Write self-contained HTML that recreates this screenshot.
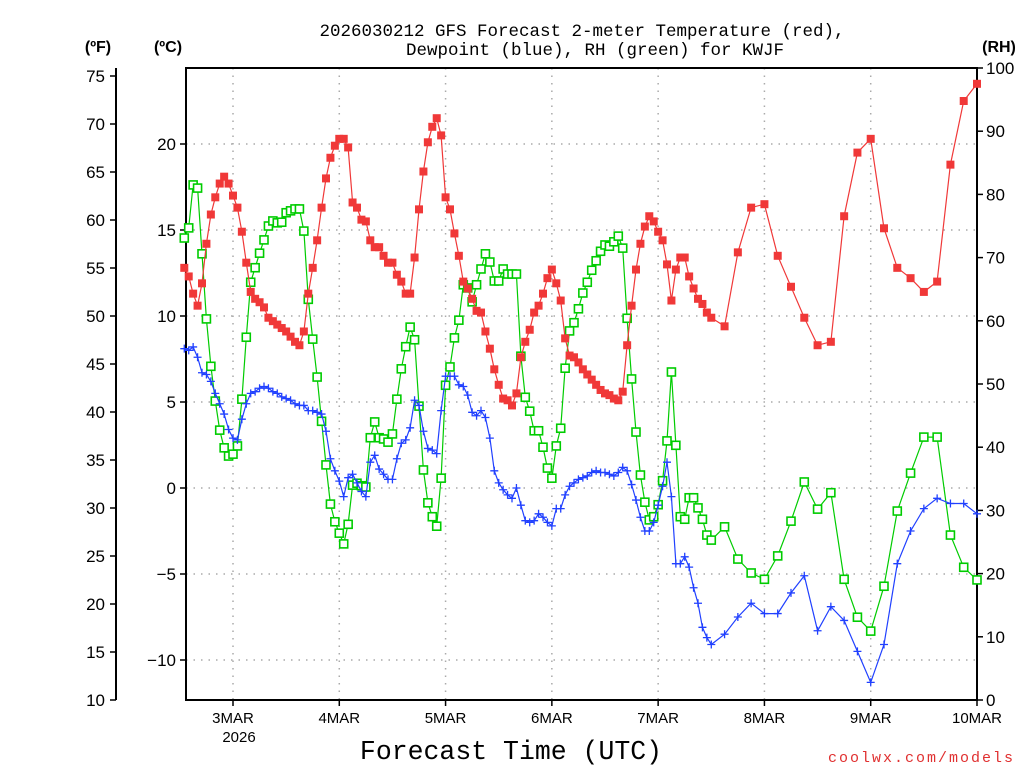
<!DOCTYPE html>
<html><head><meta charset="utf-8"><style>
html,body{margin:0;padding:0;background:#fff;}
svg{display:block;font-family:"Liberation Sans",sans-serif;}
</style></head><body>
<svg id="chart" width="1024" height="768" viewBox="0 0 1024 768">
<rect width="1024" height="768" fill="#fff"/>
<text x="582" y="36" text-anchor="middle" font-size="17.5" font-family="Liberation Mono, monospace">2026030212 GFS Forecast 2-meter Temperature (red),</text>
<text x="595" y="55" text-anchor="middle" font-size="17.5" font-family="Liberation Mono, monospace">Dewpoint (blue), RH (green) for KWJF</text>
<text x="98" y="52" text-anchor="middle" font-size="16" font-weight="bold">(ºF)</text>
<text x="168" y="52" text-anchor="middle" font-size="16" font-weight="bold">(ºC)</text>
<text x="999" y="52" text-anchor="middle" font-size="16" font-weight="bold">(RH)</text>
<text x="511" y="759" text-anchor="middle" font-size="26.5" font-family="Liberation Mono, monospace">Forecast Time (UTC)</text>
<text x="1015" y="762" text-anchor="end" font-size="15" fill="#e03030" letter-spacing="2" font-family="Liberation Mono, monospace">coolwx.com/models</text>
<g id="grid"></g>
<g id="axes"></g>
<g id="series"></g>
</svg>
<script>
// x: forecast hour (0 = 2 Mar 12Z)
const dayLabels = ["3MAR","4MAR","5MAR","6MAR","7MAR","8MAR","9MAR","10MAR"];
const dayHours = [12,36,60,84,108,132,156,180];
const cTicks = [20,15,10,5,0,-5,-10];
const fTicks = [75,70,65,60,55,50,45,40,35,30,25,20,15,10];
const rhTicks = [100,90,80,70,60,50,40,30,20,10,0];
const tempC = [12.8,12.3,11.3,10.6,11.9,14.2,15.9,16.9,17.7,18.1,17.7,17.0,16.3,14.9,13.1,11.4,11.0,10.8,10.5,9.9,9.7,9.5,9.3,9.1,8.8,8.5,8.3,9.1,11.3,12.8,14.4,16.3,18.0,19.2,19.9,20.3,20.3,19.8,16.6,16.3,15.6,15.5,14.4,14.0,14.0,13.5,13.1,
13.1,12.4,12.0,11.3,11.3,13.4,16.2,18.4,20.1,21.0,21.5,20.5,16.9,16.2,14.8,13.5,12.0,11.6,11.0,10.3,10.2,9.1,8.1,6.9,6.0,5.2,5.1,4.8,5.5,7.6,8.5,9.2,10.2,10.6,11.3,12.2,12.7,11.9,10.9,8.7,7.7,7.6,7.3,6.9,6.6,6.3,
6.0,5.7,5.5,5.4,5.2,5.1,5.6,8.3,10.6,12.7,14.2,15.2,15.8,15.5,14.9,14.4,13.0,10.9,12.7,13.4,13.4,12.3,11.6,11.0,10.7,10.2,9.9,
9.4,13.7,16.3,16.5,13.5,11.7,9.9,8.3,8.5,15.8,19.5,20.3,15.1,12.8,12.2,11.4,12.0,18.8,22.5,23.5];
const dewC = [8.1,8.0,8.2,7.6,6.7,6.6,6.2,5.5,4.9,4.3,3.4,2.9,2.8,4.0,4.9,5.5,5.6,5.8,5.9,5.8,5.6,5.5,5.3,5.2,5.1,4.9,4.8,4.8,4.5,4.5,4.4,4.3,3.3,1.7,1.0,0.4,-0.5,0.6,0.8,0.3,-0.2,-0.5,1.5,1.9,1.1,0.8,0.5,
0.5,1.7,2.6,2.8,3.5,5.1,4.8,3.3,2.3,2.2,2.0,4.5,6.5,6.5,6.5,6.0,5.9,5.4,4.4,4.2,4.5,4.1,2.9,1.0,0.3,-0.1,-0.4,-0.6,0.0,-1.0,-1.9,-2.0,-1.9,-1.5,-1.7,-2.0,-2.2,-1.2,-1.2,-0.4,0.1,0.3,0.5,0.6,0.7,0.9,
1.0,0.9,0.9,0.8,0.7,0.9,1.2,1.0,0.2,-0.7,-1.7,-2.5,-2.5,-2.0,-1.0,0.1,1.5,-0.5,-4.4,-4.4,-4.0,-4.6,-5.8,-6.7,-8.1,-8.7,-9.1,
-8.5,-7.5,-6.7,-7.3,-7.3,-6.1,-5.1,-8.3,-6.9,-7.7,-9.5,-11.3,-9.1,-4.4,-2.5,-1.2,-0.6,-0.9,-0.9,-1.5];
const rh = [73.1,74.7,81.5,81.0,70.6,60.3,52.8,47.3,42.7,39.9,38.6,38.9,40.2,47.6,57.4,66.1,68.4,70.7,72.8,75.0,75.8,75.5,75.6,77.1,77.4,77.7,77.7,74.2,63.4,57.1,51.1,44.1,37.2,31.0,28.2,26.4,24.7,27.8,34.0,34.3,33.9,33.7,41.5,44.0,41.5,41.3,40.8,
42.1,47.6,52.4,55.9,59.0,57.0,46.5,36.4,31.2,29.0,27.5,35.1,49.8,52.7,57.3,60.1,65.7,65.2,63.0,65.7,68.2,70.6,69.3,66.3,66.3,68.2,67.4,67.4,67.4,54.4,47.9,45.7,42.6,42.6,40.0,36.7,35.1,40.2,43.0,52.5,58.4,59.7,61.9,64.4,66.1,68.0,
69.5,71.0,72.0,71.8,72.5,73.4,71.5,60.4,50.8,42.4,35.6,31.3,28.5,29.0,30.9,34.7,41.0,51.9,40.3,29.0,28.6,32.0,32.0,30.4,28.6,26.1,25.3,
27.4,22.3,20.1,19.1,22.8,28.3,34.5,30.2,32.8,19.1,13.1,10.9,18.0,29.9,35.9,41.6,41.6,26.1,21.0,19.0];
// forecast hours: hourly 1..120 then 3-hourly to 180
const hours = [];
for (let h = 1; h <= 120; h++) hours.push(h);
for (let h = 123; h <= 180; h += 3) hours.push(h);

const X0 = 186, X1 = 977, Y0 = 68, Y1 = 700;
const xScale = h => 233 + (h - 12) * (977 - 233) / 168;
const yC = c => 488 - c * 17.2;
const yF = f => 700 - (f - 10) * 9.6;
const yRH = r => 700 - r * 6.32;
const NS = "http://www.w3.org/2000/svg";
function mk(tag, attrs, parent) {
  const e = document.createElementNS(NS, tag);
  for (const k in attrs) e.setAttribute(k, attrs[k]);
  parent.appendChild(e);
  return e;
}
const grid = document.getElementById('grid');
const axes = document.getElementById('axes');
const series = document.getElementById('series');

dayHours.forEach((h, i) => {
  const x = xScale(h);
  if (x < X1 - 1) {
    const g = mk('line', {x1:x, x2:x, y1:Y0, y2:Y1, stroke:'#aaa', 'stroke-width':1.5, 'stroke-dasharray':'1.5 6'}, grid);
    
    
  }
  const t = mk('line', {x1:x, x2:x, y1:Y1, y2:Y1+6, stroke:'#000', 'stroke-width':1.5}, axes);
  
  
  const lb = mk('text', {x:x, y:723, 'text-anchor':'middle', 'font-size':15}, axes);
  lb.textContent = dayLabels[i];
  
  
});
const yr = mk('text', {x:xScale(12)+6, y:742, 'text-anchor':'middle', 'font-size':15}, axes);
yr.textContent = '2026';



cTicks.forEach(c => {
  const y = yC(c);
  const g = mk('line', {x1:X0, x2:X1, y1:y, y2:y, stroke:'#aaa', 'stroke-width':1.5, 'stroke-dasharray':'1.5 6'}, grid);
  
  
  const t = mk('line', {x1:X0-6, x2:X0, y1:y, y2:y, stroke:'#000', 'stroke-width':1.5}, axes);
  
  
  const lb = mk('text', {x:X0-10, y:y+6, 'text-anchor':'end', 'font-size':17}, axes);
  lb.textContent = c < 0 ? '\u2212' + Math.abs(c) : String(c);
  
  
});
fTicks.forEach(f => {
  const y = yF(f);
  const t = mk('line', {x1:110, x2:116, y1:y, y2:y, stroke:'#000', 'stroke-width':1.5}, axes);
  
  
  const lb = mk('text', {x:105, y:y+6, 'text-anchor':'end', 'font-size':17}, axes);
  lb.textContent = String(f);
  
  
});
rhTicks.forEach(r => {
  const y = yRH(r);
  const t = mk('line', {x1:X1, x2:X1+6, y1:y, y2:y, stroke:'#000', 'stroke-width':1.5}, axes);
  
  
  const lb = mk('text', {x:X1+9, y:y+6, 'text-anchor':'start', 'font-size':17}, axes);
  lb.textContent = String(r);
  
  
});
const frame = mk('rect', {x:X0, y:Y0, width:X1-X0, height:Y1-Y0, fill:'none', stroke:'#000', 'stroke-width':2}, axes);


const fAxis = mk('line', {x1:116, x2:116, y1:Y0, y2:Y1, stroke:'#000', 'stroke-width':2}, axes);



function drawSeries(vals, yf, color, kind, name) {
  const g = mk('g', {}, series);
  
  
  const pts = vals.map((v, i) => [xScale(hours[i]), yf(v)]);
  const pl = mk('polyline', {points: pts.map(p => p[0].toFixed(1)+','+p[1].toFixed(1)).join(' '), fill:'none', stroke:color, 'stroke-width':1.2}, g);
  
  
  pts.forEach(p => {
    let m;
    if (kind === 'fill') {
      m = mk('rect', {x:p[0]-4, y:p[1]-4, width:8, height:8, fill:color}, g);
    } else if (kind === 'open') {
      m = mk('rect', {x:p[0]-4, y:p[1]-4, width:8, height:8, fill:'#fff', stroke:color, 'stroke-width':1.6}, g);
    } else {
      m = mk('path', {d:'M'+(p[0]-4)+','+p[1]+'h8M'+p[0]+','+(p[1]-4)+'v8', stroke:color, 'stroke-width':1.3, fill:'none'}, g);
    }
    
    
  });
}
drawSeries(rh, yRH, '#00cc00', 'open', 'rh');
drawSeries(dewC, yC, '#2040ff', 'plus', 'dewpoint');
drawSeries(tempC, yC, '#f03838', 'fill', 'temperature');
</script>
</body></html>
